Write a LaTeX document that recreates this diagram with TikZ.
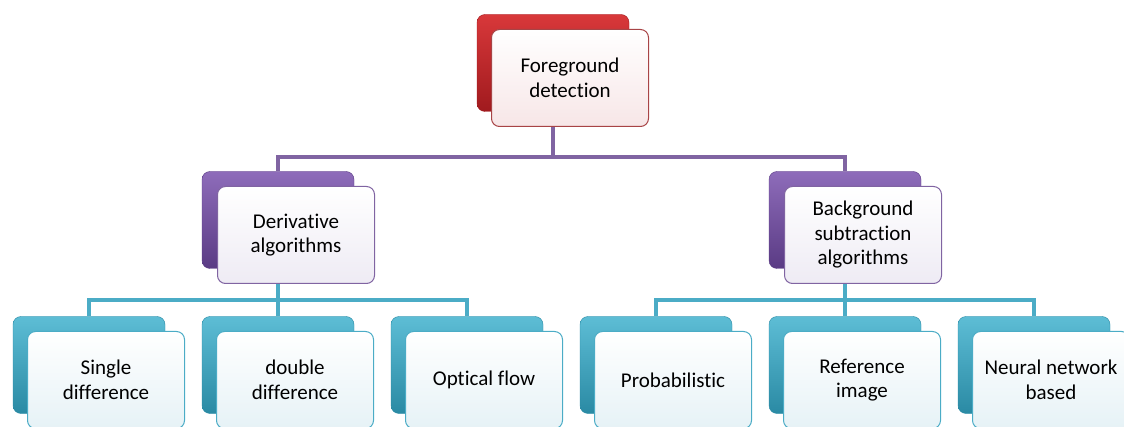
\documentclass[tikz,border=0pt]{standalone}
\usepackage{fontspec}
\setmainfont{Carlito}[Ligatures=NoCommon]
\usetikzlibrary{backgrounds}
\definecolor{redhi}{HTML}{D8383A}\definecolor{redlo}{HTML}{A01A1E}
\definecolor{redline}{HTML}{A84446}\definecolor{redpale}{HTML}{F7E6E7}
\definecolor{purhi}{HTML}{8E6CBA}\definecolor{purlo}{HTML}{5A3B84}
\definecolor{purline}{HTML}{8064A2}\definecolor{purpale}{HTML}{EEEBF4}
\definecolor{aquahi}{HTML}{5DBDD5}\definecolor{aqualo}{HTML}{2A8AA4}
\definecolor{aqualine}{HTML}{4BACC6}\definecolor{aquapale}{HTML}{E6F2F6}

\begin{document}
\begin{tikzpicture}[x=1pt, y=-1pt,
  back/.style = {rounded corners=8pt, minimum width=152pt, minimum height=97pt, thin},
  front/.style = {rounded corners=8pt, minimum width=157pt, minimum height=97pt, line width=1pt, align=center, font=\fontsize{21}{24.5}\selectfont},
  redback/.style = {back, draw=redlo, top color=redhi, bottom color=redlo},
  redfront/.style = {front, draw=redline, top color=white, bottom color=redpale},
  purback/.style = {back, draw=purlo, top color=purhi, bottom color=purlo},
  purfront/.style = {front, draw=purline, top color=white, bottom color=purpale},
  aquaback/.style = {back, draw=aqualo, top color=aquahi, bottom color=aqualo},
  aquafront/.style = {front, draw=aqualine, top color=white, bottom color=aquapale},
  purbus/.style = {draw=purline, line width=4pt},
  aquabus/.style = {draw=aqualine, line width=4pt}]
\useasboundingbox (0,0) rectangle (1124,427);

\node[redback](fg) at (553,63) {}; \node[redfront](fgtxt) at (570,78) {Foreground\\detection};

\node[purback](der) at (278,220) {}; \node[purfront](dertxt) at (296,235) {Derivative\\algorithms};
\node[purback](bsa) at (845,220) {}; \node[purfront](bsatxt) at (863,235) {Background\\subtraction\\algorithms};

\node[aquaback](sd) at (89,365) {}; \node[aquafront](sdtxt) at (106,380) {Single\\difference};
\node[aquaback](dd) at (278,365) {}; \node[aquafront](ddtxt) at (295,380) {double\\difference};
\node[aquaback](of) at (467,365) {}; \node[aquafront](oftxt) at (484,380) {Optical flow};
\node[aquaback](pb) at (656,365) {}; \node[aquafront](pbtxt) at (673,380) {Probabilistic};
\node[aquaback](ri) at (845,365) {}; \node[aquafront](ritxt) at (862,380) {Reference\\image};
\node[aquaback](nn) at (1034,365) {}; \node[aquafront](nntxt) at (1051,380) {Neural network\\based};

\coordinate (top) at (553,157); \coordinate (left) at (278,300); \coordinate (right) at (845,300);
\begin{scope}[on background layer]
\draw[purbus] (fg) -- (top); \draw[purbus] (top) -| (der); \draw[purbus] (top) -| (bsa);
\draw[aquabus] (der) -- (left); \draw[aquabus] (left) -| (sd); \draw[aquabus] (left) -| (dd); \draw[aquabus] (left) -| (of);
\draw[aquabus] (bsa) -- (right); \draw[aquabus] (right) -| (pb); \draw[aquabus] (right) -| (ri); \draw[aquabus] (right) -| (nn);
\end{scope}
\end{tikzpicture}
\end{document}
